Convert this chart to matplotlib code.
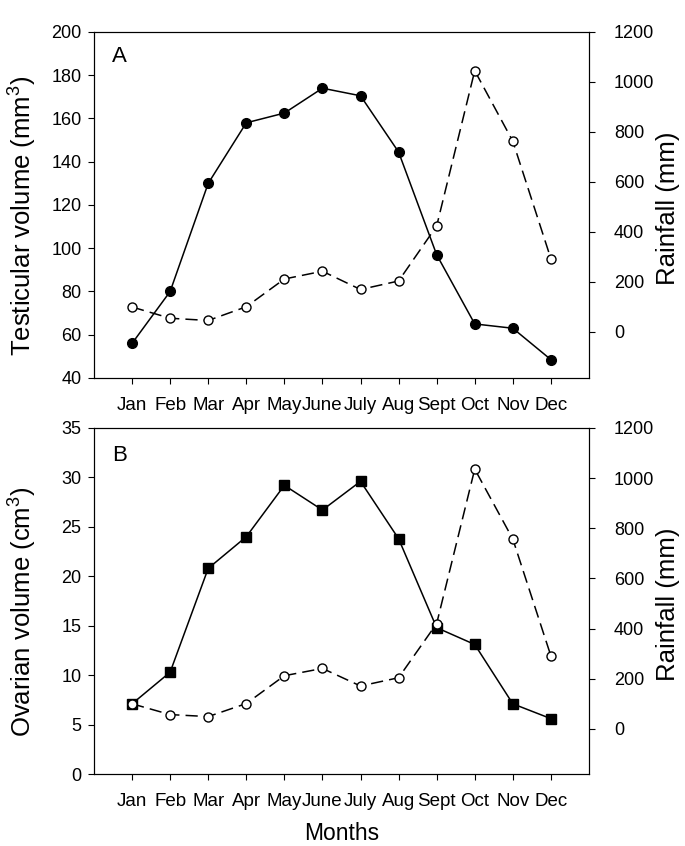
import matplotlib
matplotlib.use('Agg')
import matplotlib.pyplot as plt
import numpy as np

# values
months = ['Jan', 'Feb', 'Mar', 'Apr', 'May', 'June', 'July', 'Aug', 'Sept', 'Oct', 'Nov', 'Dec']
testis_vol = [56, 80, 130, 158, 162.5, 174, 170.5, 144.5, 97, 65, 63, 48.5]
ovary_vol = [7.1, 10.3, 20.8, 24.0, 29.2, 26.7, 29.6, 23.8, 14.8, 13.1, 7.1, 5.6]
rain_a = [100, 55, 46, 101, 212, 243, 170, 204, 424, 1045, 763, 293]
rain_b = [100, 57, 49, 101, 212, 241, 171, 204, 420, 1036, 757, 291]

plt.rcParams['font.family'] = ['Liberation Sans', 'DejaVu Sans']
plt.rcParams['mathtext.fontset'] = 'custom'
plt.rcParams['mathtext.rm'] = 'Liberation Sans'

fig = plt.figure(figsize=(6.85, 8.46), dpi=100)
x = np.arange(1, 13)


def panel(rect, yvals, ylim, yticks, ylabel, marker, rain, rlim, letter, letter_y):
    ax = fig.add_axes(rect)
    ax.plot(x, yvals, color='black', lw=1.1, marker=marker, ms=7,
            mfc='black', mec='black', zorder=3)
    ax.set_xlim(0, 13)
    ax.set_ylim(*ylim)
    ax.set_yticks(yticks)
    ax.set_xticks(x)
    ax.set_xticklabels(months, fontsize=13.5)
    ax.tick_params(axis='y', direction='out', length=4, labelsize=13, width=0.8, pad=5)
    ax.tick_params(axis='x', direction='out', length=4, width=0.8, pad=10)
    ax.set_ylabel(ylabel, fontsize=18.5)
    ax.yaxis.set_label_coords(-0.113, 0.47)
    ax.text(0.036, letter_y, letter, transform=ax.transAxes, fontsize=16,
            va='center', ha='left')
    for s in ax.spines.values():
        s.set_linewidth(0.8)

    ax2 = ax.twinx()
    ax2.plot(x, rain, color='black', lw=1.1, ls=(0, (8, 4)), marker='o', ms=6.5,
             mfc='white', mec='black', mew=1.0, zorder=3)
    ax2.set_ylim(*rlim)
    ax2.set_yticks(np.arange(0, 1201, 200))
    ax2.tick_params(axis='y', direction='out', length=4, labelsize=13, width=0.8, pad=14)
    ax2.set_ylabel('Rainfall (mm)', fontsize=18.5)
    ax2.yaxis.set_label_coords(1.135, 0.49)
    for s in ax2.spines.values():
        s.set_linewidth(0.8)
    return ax


panel([0.1372, 0.5532, 0.7226, 0.409], testis_vol, (40, 200), np.arange(40, 201, 20),
      'Testicular volume (mm$^3$)', 'o', rain_a, (-184, 1200), 'A', 0.928)
axb = panel([0.1372, 0.0851, 0.7226, 0.409], ovary_vol, (0, 35), np.arange(0, 36, 5),
            'Ovarian volume (cm$^3$)', 's', rain_b, (-180, 1200), 'B', 0.92)
axb.set_xlabel('Months', fontsize=16.5)
axb.xaxis.set_label_coords(0.5, -0.139)

fig.savefig('out.png', dpi=100)
